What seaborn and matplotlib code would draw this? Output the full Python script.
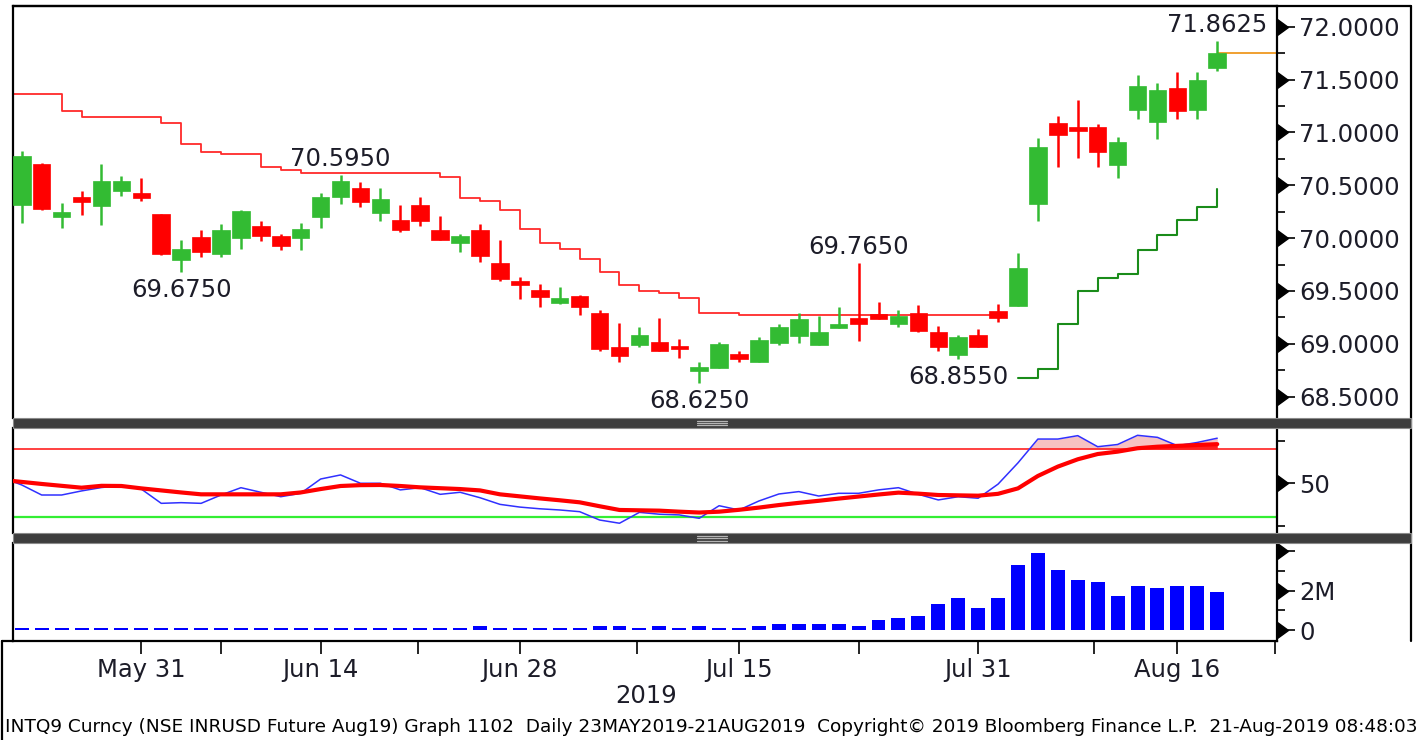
import numpy as np
import pandas as pd
import matplotlib
matplotlib.use("Agg")
import matplotlib.pyplot as plt
import seaborn as sns
from matplotlib.patches import Rectangle
from matplotlib.lines import Line2D

# ---------------- data ----------------
holidays = ["2019-06-05", "2019-08-12", "2019-08-15"]
dates = pd.bdate_range("2019-05-23", "2019-08-20").drop(pd.to_datetime(holidays))

opens = [70.31, 70.70, 70.20, 70.39, 70.30, 70.45, 70.43, 70.23, 69.79, 70.01,
         69.85, 70.00, 70.11, 70.02, 70.00, 70.20, 70.39, 70.47, 70.24, 70.17,
         70.31, 70.08, 69.95, 70.08, 69.76, 69.59, 69.51, 69.39, 69.45, 69.29,
         68.97, 68.99, 69.02, 68.98, 68.74, 68.77, 68.90, 68.83, 69.01, 69.07,
         68.99, 69.15, 69.24, 69.28, 69.19, 69.29, 69.11, 68.89, 69.08, 69.31,
         69.36, 70.32, 71.09, 71.05, 71.05, 70.69, 71.21, 71.10, 71.42, 71.21,
         71.61]
highs = [70.82, 70.71, 70.33, 70.45, 70.70, 70.59, 70.57, 70.23, 69.98, 70.08,
         70.13, 70.27, 70.16, 70.04, 70.14, 70.43, 70.595, 70.53, 70.47, 70.31,
         70.39, 70.21, 70.04, 70.13, 69.98, 69.63, 69.57, 69.54, 69.46, 69.32,
         69.20, 69.16, 69.24, 69.05, 68.83, 69.02, 68.93, 69.06, 69.19, 69.29,
         69.26, 69.35, 69.765, 69.40, 69.32, 69.37, 69.17, 69.08, 69.14, 69.38,
         69.86, 70.95, 71.16, 71.31, 71.08, 70.96, 71.54, 71.47, 71.57, 71.57,
         71.8625]
lows = [70.14, 70.27, 70.10, 70.22, 70.12, 70.40, 70.35, 69.84, 69.675, 69.82,
        69.82, 69.90, 69.97, 69.89, 69.89, 70.10, 70.32, 70.29, 70.16, 70.06,
        70.11, 69.98, 69.87, 69.77, 69.59, 69.42, 69.35, 69.38, 69.27, 68.93,
        68.83, 68.97, 68.93, 68.87, 68.625, 68.77, 68.83, 68.83, 68.99, 69.01,
        68.99, 69.15, 69.03, 69.23, 69.16, 69.11, 68.93, 68.855, 68.97, 69.21,
        69.36, 70.16, 70.67, 70.76, 70.67, 70.57, 71.13, 70.94, 71.13, 71.13,
        71.58]
closes = [70.78, 70.28, 70.25, 70.34, 70.54, 70.54, 70.38, 69.85, 69.90, 69.87,
          70.08, 70.26, 70.02, 69.93, 70.09, 70.39, 70.54, 70.34, 70.37, 70.08,
          70.16, 69.98, 70.02, 69.83, 69.61, 69.56, 69.44, 69.43, 69.35, 68.95,
          68.88, 69.08, 68.93, 68.95, 68.78, 69.00, 68.86, 69.04, 69.16, 69.23,
          69.11, 69.19, 69.19, 69.23, 69.26, 69.12, 68.97, 69.06, 68.97, 69.24,
          69.72, 70.86, 70.98, 71.01, 70.81, 70.91, 71.44, 71.40, 71.20, 71.50,
          71.75]
volume_m = [0.1] * 23 + [0.2, 0.1, 0.1, 0.1, 0.1, 0.1, 0.2, 0.2, 0.1, 0.2, 0.1,
            0.2, 0.1, 0.1, 0.22, 0.3, 0.3, 0.3, 0.3, 0.22, 0.5, 0.62, 0.72,
            1.33, 1.63, 1.13, 1.62, 3.28, 3.9, 3.05, 2.55, 2.45, 1.72, 2.25,
            2.13, 2.25, 2.25, 1.92]

# indicator series start one session earlier (22 May 2019)
ind_first = -1
rsi = [53.5, 49.0, 43.1, 43.1, 45.5, 47.5, 48.6, 46.6, 38.2, 38.6, 38.2,
       43.1, 47.4, 44.7, 42.1, 44.1, 52.5, 54.9, 50.0, 50.0, 46.1,
       47.4, 43.5, 44.7, 41.5, 37.6, 36.0, 35.0, 34.3, 33.3, 28.4,
       26.5, 32.9, 31.8, 31.4, 29.4, 36.8, 34.3, 39.6, 43.7, 45.1,
       42.5, 44.1, 44.1, 46.1, 47.4, 43.5, 40.2, 42.1, 41.2, 49.5,
       62.0, 76.0, 76.0, 78.0, 71.5, 72.8, 78.2, 77.0, 72.1, 74.0, 76.5]
rsi_ma = [52.0, 50.8, 49.6, 48.5, 47.4, 48.5, 48.4, 47.0, 45.8, 44.6, 43.5,
          43.5, 43.5, 43.5, 43.5, 44.6, 46.6, 48.4, 48.9, 49.0, 48.4,
          47.6, 47.1, 46.6, 45.8, 43.5, 42.3, 41.1, 40.0, 38.8, 36.5,
          34.3, 34.1, 33.9, 33.3, 32.8, 33.3, 34.4, 35.7, 37.2, 38.5,
          39.7, 41.0, 42.2, 43.4, 44.5, 43.9, 43.1, 42.9, 42.7, 43.8,
          47.0, 54.3, 59.8, 64.1, 67.2, 68.6, 70.6, 71.5, 72.0, 72.5, 73.0]
rsi_levels = [70, 30]

red_stop_first = -1
red_stop = [71.36, 71.36, 71.36, 71.20, 71.15, 71.15, 71.15, 71.15, 71.09, 70.89,
            70.81, 70.80, 70.80, 70.675, 70.64, 70.62, 70.62, 70.62, 70.62, 70.62,
            70.62, 70.62, 70.58, 70.38, 70.35, 70.27, 70.09, 69.95, 69.90, 69.80,
            69.68, 69.555, 69.50, 69.48, 69.43, 69.29, 69.29, 69.27, 69.27, 69.27,
            69.27, 69.27, 69.27, 69.27, 69.27, 69.27, 69.27, 69.27, 69.27, 69.27,
            69.27]
green_stop_first = 50
green_stop = [68.68, 68.76, 69.19, 69.50, 69.625, 69.66, 69.89, 70.03, 70.17,
              70.29, 70.465]

date_labels = ["May 31", "Jun 14", "Jun 28", "Jul 15", "Jul 31", "Aug 16"]
price_ticks = [68.5, 69.0, 69.5, 70.0, 70.5, 71.0, 71.5, 72.0]
rsi_ticks = [50]
vol_ticks = [0, 2, 4]
vol_tick_labels = ["0", "2M", ""]
annotated = [(16, "high"), (8, "low"), (34, "low"), (42, "high"), (47, "low"), (60, "high")]
footer = ("INTQ9 Curncy (NSE INRUSD Future Aug19) Graph 1102  Daily 23MAY2019-21AUG2019  "
          "Copyright\u00a9 2019 Bloomberg Finance L.P.  21-Aug-2019 08:48:03")

# ---------------- style ----------------
sns.set_theme(style="white")
plt.rcParams["font.family"] = ["DejaVu Sans"]
TXT = "#1c1c28"
GREEN = "#33bb33"
RED = "#ff0000"
FS = 17.5

W, H = 1419, 740
fig = plt.figure(figsize=(W / 100, H / 100), dpi=100)


def frac(x0, y0, x1, y1):
    return [x0 / W, 1 - y1 / H, (x1 - x0) / W, (y1 - y0) / H]


ax_p = fig.add_axes(frac(13, 6, 1277, 418))
ax_r = fig.add_axes(frac(13, 428, 1277, 533), sharex=ax_p)
ax_v = fig.add_axes(frac(13, 543, 1277, 641), sharex=ax_p)

x = np.arange(len(dates))
o = np.array(opens); h = np.array(highs); l = np.array(lows); c = np.array(closes)
up = c >= o
cols = np.where(up, GREEN, RED)

# ---- price panel ----
xs_red = np.arange(red_stop_first, red_stop_first + len(red_stop))
sns.lineplot(x=xs_red, y=red_stop, ax=ax_p, color="#ff2a2a", lw=1.3,
             drawstyle="steps-post", estimator=None, zorder=1)
xs_grn = np.arange(green_stop_first, green_stop_first + len(green_stop))
sns.lineplot(x=xs_grn, y=green_stop, ax=ax_p, color="#1a8c1a", lw=1.5,
             drawstyle="steps-post", estimator=None, zorder=1)

ax_p.vlines(x, l, h, colors=cols, lw=1.8, zorder=2)
body_lo = np.minimum(o, c)
body_h = np.maximum(np.abs(c - o), 0.025)
ax_p.bar(x, body_h, bottom=body_lo, width=0.88, color=cols, edgecolor=cols,
         lw=0.5, zorder=3)
ax_p.hlines(c[-1], x[-1], 64, colors="#f0a030", lw=1.4, zorder=1)

for i, kind in annotated:
    if kind == "high":
        ax_p.annotate(f"{h[i]:.4f}", (x[i], h[i]), xytext=(0, 3),
                      textcoords="offset points", ha="center", va="bottom",
                      fontsize=FS, color=TXT)
    else:
        ax_p.annotate(f"{l[i]:.4f}", (x[i], l[i]), xytext=(0, -4),
                      textcoords="offset points", ha="center", va="top",
                      fontsize=FS, color=TXT)

ax_p.set_ylim(68.298, 72.196)
ax_p.set_xlim(-0.44, 63.0)

# ---- RSI panel ----
xs_ind = np.arange(ind_first, ind_first + len(rsi))
rsi_a = np.array(rsi); ma_a = np.array(rsi_ma)
ax_r.fill_between(xs_ind, rsi_a, rsi_levels[0], where=rsi_a > rsi_levels[0],
                  interpolate=True, color="#f7c2c2", lw=0, zorder=1)
ax_r.fill_between(xs_ind, ma_a, rsi_levels[0], where=ma_a > rsi_levels[0],
                  interpolate=True, color="#ff2020", lw=0, zorder=1)
ax_r.axhline(rsi_levels[0], color="#ff2020", lw=1.2, zorder=2)
ax_r.axhline(rsi_levels[1], color="#33ee33", lw=1.6, zorder=2)
sns.lineplot(x=xs_ind, y=rsi, ax=ax_r, color="#3030ff", lw=1.1, estimator=None, zorder=3)
sns.lineplot(x=xs_ind, y=rsi_ma, ax=ax_r, color="#ff0000", lw=3.0, estimator=None, zorder=4)
ax_r.set_ylim(20.76, 82.5)

# ---- volume panel ----
sns.barplot(x=x, y=volume_m, ax=ax_v, native_scale=True, width=0.7,
            color="#0000ff", saturation=1, edgecolor="none", zorder=2)
ax_v.set_ylim(-0.53, 4.38)
ax_v.set_xlim(-0.44, 63.0)
ax_v.set_ylabel("")
ax_v.set_xlabel("")


# ---- axes cosmetics ----
def right_axis(ax, major, labels, minor):
    ax.yaxis.tick_right()
    ax.set_yticks(major)
    ax.set_yticklabels(labels)
    ax.set_yticks(minor, minor=True)
    ax.tick_params(axis="y", which="major", length=13, width=1.2, color="black",
                   pad=3, labelsize=FS, labelcolor=TXT, direction="out",
                   right=True, left=False)
    ax.tick_params(axis="y", which="minor", length=6, width=1.2, color="black",
                   direction="out", right=True, left=False)
    ax.plot(np.ones(len(major)), major, transform=ax.get_yaxis_transform(),
            marker=9, ms=11, color="black", ls="none", clip_on=False, zorder=10)
    ax.set_ylabel("")
    for s in ax.spines.values():
        s.set_color("black")
        s.set_linewidth(1.6)


right_axis(ax_p, price_ticks, [f"{v:.4f}" for v in price_ticks],
           [v + 0.25 for v in price_ticks[:-1]])
right_axis(ax_r, rsi_ticks, ["50"], [25, 75])
right_axis(ax_v, vol_ticks, vol_tick_labels, [1, 3])

ax_p.spines["bottom"].set_visible(False)
ax_r.spines["top"].set_visible(False)
ax_r.spines["bottom"].set_visible(False)
ax_v.spines["top"].set_visible(False)
for ax in (ax_p, ax_r):
    ax.tick_params(axis="x", which="both", bottom=False, labelbottom=False)
    ax.set_xlabel("")

label_pos = [dates.get_loc(pd.to_datetime(s + " 2019", format="%b %d %Y"))
             for s in date_labels]
ax_v.set_xticks(label_pos)
ax_v.set_xticklabels(date_labels)
ax_v.set_xticks([10, 19.9, 30.9, 42, 53.8, 62.9], minor=True)
ax_v.tick_params(axis="x", which="both", bottom=True, length=9, width=1.2,
                 color="black", direction="out", labelsize=FS, labelcolor=TXT, pad=3)

# ---- frame, separators, text ----
fig.add_artist(Line2D([13 / W, 1411 / W], [1 - 6 / H, 1 - 6 / H], color="black", lw=1.6))
fig.add_artist(Line2D([1411 / W, 1411 / W], [1 - 6 / H, 1 - 641 / H], color="black", lw=1.6))
fig.add_artist(Line2D([2 / W, 2 / W], [1 - 641 / H, 0], color="black", lw=1.6))
fig.add_artist(Line2D([2 / W, 13 / W], [1 - 641 / H, 1 - 641 / H], color="black", lw=1.6))
for y0 in (418, 533):
    fig.add_artist(Rectangle((13 / W, 1 - (y0 + 10) / H), (1411 - 13) / W, 10 / H,
                             facecolor="#3d3d3d", edgecolor="#8a8a8a", lw=0.8,
                             transform=fig.transFigure, zorder=20))
    for dy in (2.5, 5, 7.5):
        fig.add_artist(Line2D([697 / W, 727 / W], [1 - (y0 + dy) / H] * 2,
                              color="#b4b4b4", lw=0.9, zorder=21))

fig.text(646 / W, 1 - 696 / H, "2019", ha="center", va="center", fontsize=FS, color=TXT)
fig.text(5 / W, 1 - 727 / H, footer, ha="left", va="center", fontsize=13.3, color="black")

fig.savefig("out.png", dpi=100)
